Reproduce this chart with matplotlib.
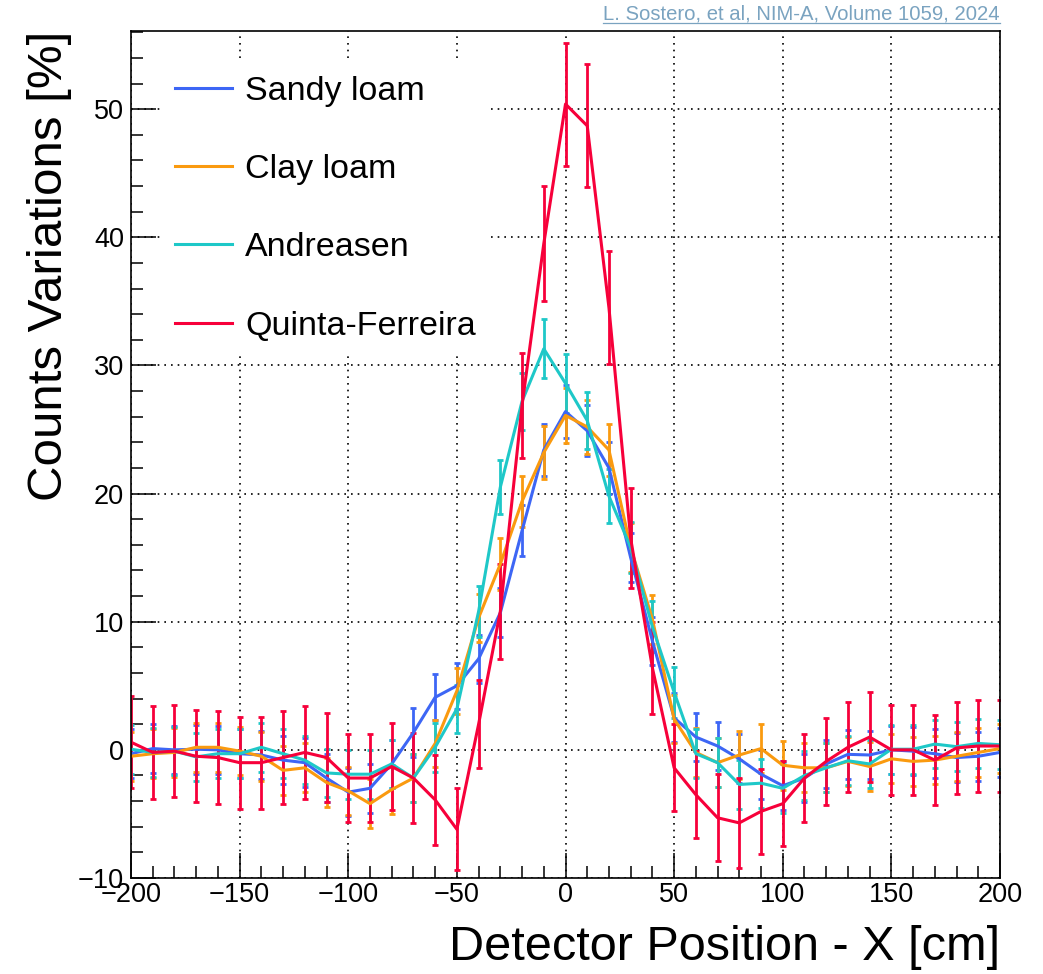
import matplotlib
matplotlib.use("Agg")
import matplotlib.pyplot as plt
from matplotlib.ticker import MultipleLocator
from matplotlib.lines import Line2D

plt.rcParams['font.family'] = ['Liberation Sans', 'DejaVu Sans']

# ---------------- data ----------------
positions = [-200, -190, -180, -170, -160, -150, -140, -130, -120, -110,
             -100, -90, -80, -70, -60, -50, -40, -30, -20, -10,
             0, 10, 20, 30, 40, 50, 60, 70, 80, 90,
             100, 110, 120, 130, 140, 150, 160, 170, 180, 190, 200]

sandy_loam = [-0.3, 0.1, 0.0, 0.05, 0.0, -0.3, -0.4, -0.8, -1.0, -2.2,
              -3.3, -3.0, -1.1, 1.35, 4.1, 5.0, 7.1, 10.7, 17.1, 23.4,
              26.4, 24.9, 22.0, 15.0, 8.5, 2.5, 1.0, 0.3, -0.7, -1.9,
              -2.8, -2.2, -1.1, -0.35, -0.4, 0.0, -0.1, -0.3, -0.6, -0.5, -0.2]
sandy_err = [1.9, 1.9, 1.9, 1.9, 1.9, 1.9, 1.9, 1.9, 1.9, 1.9,
             1.9, 1.9, 1.9, 1.9, 1.8, 1.8, 1.9, 1.9, 2.0, 2.0,
             2.1, 2.0, 2.0, 1.9, 1.9, 1.9, 1.9, 1.9, 1.9, 1.9,
             1.9, 1.9, 1.9, 1.9, 1.9, 1.9, 1.9, 1.9, 1.9, 1.9, 1.9]

clay_loam = [-0.5, -0.3, -0.2, 0.2, 0.2, -0.1, -0.5, -1.6, -1.4, -2.55,
             -3.2, -4.2, -3.1, -2.2, 0.5, 4.6, 10.3, 14.5, 19.4, 23.2,
             26.1, 25.2, 23.4, 15.8, 10.2, 2.4, -0.2, -1.0, -0.4, 0.1,
             -1.2, -1.4, -1.4, -0.9, -1.3, -0.7, -0.9, -0.8, -0.5, -0.2, 0.1]
clay_err = [1.9, 1.9, 1.9, 1.9, 1.9, 1.9, 1.9, 1.9, 1.9, 1.9,
            1.9, 1.9, 1.9, 1.9, 1.8, 1.8, 1.9, 2.0, 2.0, 2.1,
            2.15, 2.1, 2.0, 1.9, 1.9, 1.9, 1.9, 1.9, 1.9, 1.9,
            1.9, 1.9, 1.9, 1.9, 1.9, 1.9, 1.9, 1.9, 1.9, 1.9, 1.9]

andreasen = [0.05, -0.2, -0.1, -0.55, -0.3, -0.3, 0.2, -0.3, -0.8, -1.8,
             -1.9, -1.9, -1.1, -2.2, 0.2, 3.2, 10.8, 20.5, 27.2, 31.3,
             28.6, 25.7, 19.8, 15.8, 9.6, 4.5, -0.3, -1.0, -2.7, -2.6,
             -3.0, -2.0, -1.4, -0.85, -1.1, 0.05, 0.05, 0.45, 0.25, 0.5, 0.4]
andreasen_err = [1.9, 1.9, 1.9, 1.9, 1.9, 1.9, 1.9, 1.9, 1.9, 1.9,
                 1.9, 1.9, 1.9, 1.9, 1.9, 1.9, 2.0, 2.1, 2.2, 2.3,
                 2.3, 2.2, 2.1, 2.0, 2.0, 2.0, 1.9, 1.9, 1.9, 1.9,
                 1.9, 1.9, 1.9, 1.9, 1.9, 1.9, 1.9, 1.9, 1.9, 1.9, 1.9]

quinta_ferreira = [0.6, -0.2, -0.1, -0.5, -0.6, -1.0, -1.0, -0.6, -0.2, -0.6,
                   -2.2, -2.2, -1.3, -2.2, -3.9, -6.2, 2.0, 10.8, 26.9, 39.5,
                   50.4, 48.7, 34.5, 16.5, 6.4, -1.4, -3.5, -5.3, -5.7, -4.8,
                   -4.2, -2.2, -0.9, 0.2, 1.0, 0.0, 0.0, -0.8, 0.15, 0.3, 0.3]
quinta_err = [3.6, 3.6, 3.6, 3.6, 3.6, 3.6, 3.6, 3.6, 3.6, 3.5,
              3.4, 3.4, 3.4, 3.5, 3.5, 3.2, 3.45, 3.7, 4.1, 4.5,
              4.8, 4.8, 4.4, 3.9, 3.6, 3.4, 3.4, 3.4, 3.5, 3.3,
              3.3, 3.4, 3.4, 3.5, 3.5, 3.5, 3.5, 3.5, 3.6, 3.6, 3.6]

series_names = ["Sandy loam", "Clay loam", "Andreasen", "Quinta-Ferreira"]
series_values = [sandy_loam, clay_loam, andreasen, quinta_ferreira]
series_errors = [sandy_err, clay_err, andreasen_err, quinta_err]
series_colors = ["#3d66f5", "#fa9a0f", "#1ec8c8", "#f7003a"]

x_ticks = [-200, -150, -100, -50, 0, 50, 100, 150, 200]
y_ticks = [-10, 0, 10, 20, 30, 40, 50]

citation = "L. Sostero, et al, NIM-A, Volume 1059, 2024"

# ---------------- figure ----------------
W, H = 1043, 974
fig = plt.figure(figsize=(W / 100, H / 100), dpi=100)
ax = fig.add_axes([131 / W, 1 - 878 / H, 869 / W, 847 / H])

for name, vals, errs, col in zip(series_names, series_values, series_errors, series_colors):
    ax.errorbar(positions, vals, yerr=errs, color=col, lw=2.2,
                elinewidth=2.0, capsize=2.5, capthick=2.0, label=name)

ax.set_xlim(-200, 200)
ax.set_ylim(-10, 56.1)
ax.set_xticks(x_ticks)
ax.set_yticks(y_ticks)
ax.xaxis.set_minor_locator(MultipleLocator(10))
ax.yaxis.set_minor_locator(MultipleLocator(2))

ax.tick_params(which='both', direction='in', top=False, right=False,
               width=1.1, colors='black')
ax.tick_params(which='major', length=18)
ax.tick_params(which='minor', length=8.5)
ax.tick_params(axis='x', which='major', labelsize=19.5, pad=3)
ax.tick_params(axis='y', which='major', labelsize=19.5, pad=5)

ax.grid(True, which='major', color='black', linestyle=(0, (1, 3)), linewidth=1.2)

for sp in ax.spines.values():
    sp.set_linewidth(1.2)
    sp.set_color('black')

ax.set_ylabel("Counts Variations [%]", fontsize=35.5, loc='top', labelpad=4)
ax.set_xlabel("Detector Position - X [cm]", fontsize=35, loc='right', labelpad=12)

handles = [Line2D([], [], color=c, lw=2.2) for c in series_colors]
leg = ax.legend(handles, series_names, loc='upper left',
                bbox_to_anchor=((160 - 131) / 869, 1 - 30 / 847),
                borderaxespad=0, borderpad=0.43, fontsize=24.5,
                handlelength=1.7, handletextpad=0.38, labelspacing=1.39,
                frameon=True, fancybox=False, facecolor='white',
                edgecolor='none', framealpha=1)

cit = fig.text(1000 / W, 1 - 19 / H, citation, ha='right', va='baseline',
               fontsize=14.6, color='#7aa3c0')

fig.canvas.draw()
bb = cit.get_window_extent()
uy = H - 23
fig.add_artist(Line2D([bb.x0 / W, bb.x1 / W], [uy / H, uy / H],
                      transform=fig.transFigure, color='#7aa3c0', lw=0.9))

fig.savefig("out.png", dpi=100)
